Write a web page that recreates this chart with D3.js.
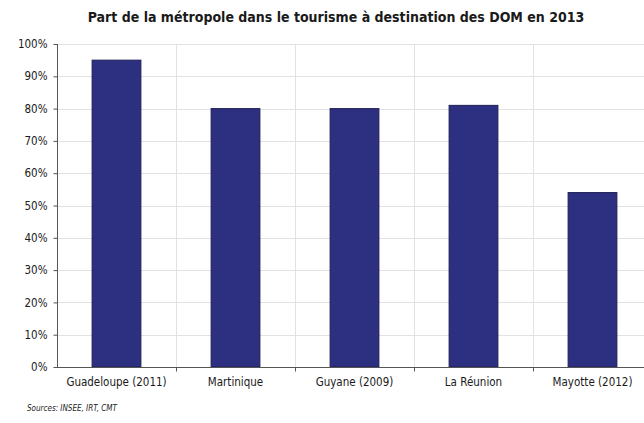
<!DOCTYPE html>
<html>
<head>
    <meta charset="utf-8" />
    <title></title>
    <style>
        body { margin: 0; background: #fff; }
        text { font-family: "DejaVu Sans Condensed", "DejaVu Sans", sans-serif; fill: #1a1a1a; }
        .grid line { stroke: #e2e2e2; stroke-width: 1px; }
        .title { font-size: 14px; font-weight: bold; }
        .tick-label { font-size: 11.5px; }
        .source { font-size: 8px; font-style: italic; }
    </style>
</head>
<body>
    <script src="https://d3js.org/d3.v7.min.js"></script>
    <script>
      var categories = ["Guadeloupe (2011)", "Martinique", "Guyane (2009)", "La Réunion", "Mayotte (2012)"];
      var shares = [95, 80, 80, 81, 54];
      var yTicks = [0, 10, 20, 30, 40, 50, 60, 70, 80, 90, 100];

      var width = 644, height = 423;
      var plotLeft = 57, plotTop = 44, plotBottom = 367, plotRight = 652;

      var svg = d3.select("body").append("svg")
        .attr("width", width)
        .attr("height", height);

      var x = d3.scaleBand().domain(categories).range([plotLeft, plotRight]).padding(0);
      var y = d3.scaleLinear().domain([0, 100]).range([plotBottom, plotTop]);

      svg.append("text")
        .attr("class", "title")
        .attr("x", 336)
        .attr("y", 22)
        .attr("text-anchor", "middle")
        .text("Part de la métropole dans le tourisme à destination des DOM en 2013");

      // horizontal grid
      var grid = svg.append("g").attr("class", "grid");
      grid.selectAll("line.h")
        .data(yTicks.filter(function(d) { return d > 0; }))
        .enter().append("line")
        .attr("x1", plotLeft).attr("x2", plotRight)
        .attr("y1", function(d) { return Math.round(y(d)) + 0.5; })
        .attr("y2", function(d) { return Math.round(y(d)) + 0.5; });

      // vertical grid between categories
      grid.selectAll("line.v")
        .data(categories.slice(1))
        .enter().append("line")
        .attr("x1", function(d) { return Math.round(x(d)) + 0.5; })
        .attr("x2", function(d) { return Math.round(x(d)) + 0.5; })
        .attr("y1", plotTop).attr("y2", plotBottom);

      var barW = x.bandwidth() * 0.41;
      svg.append("g").selectAll("rect")
        .data(shares)
        .enter().append("rect")
        .attr("x", function(d, i) { return x(categories[i]) + (x.bandwidth() - barW) / 2; })
        .attr("y", function(d) { return y(d); })
        .attr("width", barW)
        .attr("height", function(d) { return y(0) - y(d); })
        .attr("fill", "#2d2f80")
        .attr("stroke", "#1f1f55")
        .attr("stroke-width", 1);

      // y axis
      var yAxis = svg.append("g")
        .attr("transform", "translate(" + (plotLeft + 0.5) + ",0)")
        .call(d3.axisLeft(y).tickValues(yTicks).tickSize(4).tickPadding(6)
          .tickFormat(function(d) { return d + "%"; }));
      yAxis.select(".domain").attr("stroke", "#555").attr("d", "M0," + plotTop + "V" + plotBottom);
      yAxis.selectAll(".tick line").attr("stroke", "#555");
      yAxis.selectAll(".tick text").attr("class", "tick-label").attr("fill", "#1a1a1a");
      yAxis.attr("font-family", null).attr("font-size", null);

      // x axis
      var xAxis = svg.append("g")
        .attr("transform", "translate(0," + (plotBottom + 0.5) + ")")
        .call(d3.axisBottom(x).tickSize(0).tickPadding(10));
      xAxis.select(".domain").attr("stroke", "#555").attr("d", "M" + plotLeft + ",0H" + plotRight);
      xAxis.selectAll(".tick text").attr("class", "tick-label").attr("fill", "#1a1a1a");
      xAxis.attr("font-family", null).attr("font-size", null);
      xAxis.selectAll("line.sep")
        .data(categories.slice(1))
        .enter().append("line")
        .attr("x1", function(d) { return Math.round(x(d)) + 0.5; })
        .attr("x2", function(d) { return Math.round(x(d)) + 0.5; })
        .attr("y1", 0).attr("y2", 4)
        .attr("stroke", "#555");

      svg.append("text")
        .attr("class", "source")
        .attr("x", 27)
        .attr("y", 411)
        .text("Sources: INSEE, IRT, CMT");
    </script>
</body>
</html>
